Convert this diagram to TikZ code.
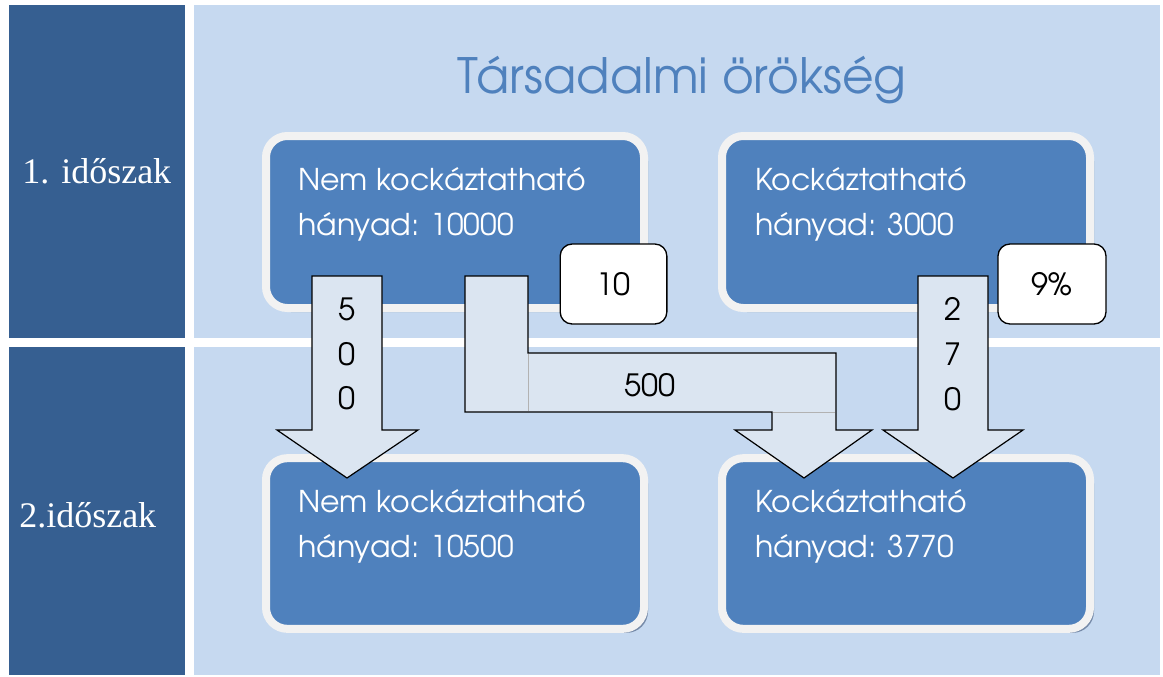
\documentclass[tikz,border=0pt]{standalone}
\usepackage{fontspec}
\setmainfont{Liberation Serif}
\newfontfamily\gothic{TeX Gyre Adventor}
\usetikzlibrary{shadows}
\definecolor{panelDark}{RGB}{54,95,145}
\definecolor{panelLight}{RGB}{198,217,240}
\definecolor{boxBlue}{RGB}{79,129,189}
\definecolor{boxRim}{RGB}{242,242,242}
\definecolor{boxShade}{RGB}{118,138,168}
\definecolor{arrowFill}{RGB}{219,229,241}
\tikzset{
  hanyadbox/.style={draw=boxRim,line width=6pt,fill=boxBlue,rounded corners=16pt,
    minimum height=129pt,inner sep=0pt,outer sep=0pt,
    drop shadow={shadow xshift=3pt,shadow yshift=-3pt,fill=boxShade,opacity=1}},
  hanyadtext/.style={anchor=base west,align=left,inner sep=0pt,text=white,
    font=\gothic\fontsize{22.5}{33.5}\selectfont},
  blockarrow/.style={draw=black,line width=0.9pt,fill=arrowFill,line join=miter},
  arrowtext/.style={align=center,inner sep=0pt,font=\gothic\fontsize{23}{33.5}\selectfont},
  callout/.style={draw=black,line width=1pt,fill=white,rounded corners=9pt,
    minimum height=60pt,inner sep=0pt,font=\gothic\fontsize{23}{27}\selectfont},
  periodlabel/.style={anchor=base west,inner sep=0pt,text=white,font=\fontsize{27}{30}\selectfont}
}
\begin{document}
\begin{tikzpicture}[x=0.75pt,y=-0.75pt]
	\useasboundingbox (0,0) rectangle (1163,676);
	
	\fill[panelDark] (9,5) rectangle (185,338);
	\fill[panelDark] (9,347) rectangle (185,675);
	\fill[panelLight] (194,5) rectangle (1160,338);
	\fill[panelLight] (194,347) rectangle (1160,675);
	
	\node[periodlabel] (per1) at (22,183) {1. időszak};
	\node[periodlabel] (per2) at (19,527) {2.időszak};
	
	\node[inner sep=0pt,anchor=base,text=boxBlue,font=\gothic\fontsize{36.5}{40}\selectfont] (title) at (682,93) {Társadalmi örökség};
	
	% time 1
	\node[hanyadbox,minimum width=283.5pt] (nk1) at (455,222) {};
	\node[hanyadbox,minimum width=276pt] (k1) at (906,222) {};
	\node[hanyadtext] (nk1txt) at (298,235) {Nem kockáztatható\\hányad: 10000};
	\node[hanyadtext] (k1txt) at (755,235) {Kockáztatható\\hányad: 3000};
	
	% time 2
	\node[hanyadbox,minimum width=283.5pt,minimum height=128pt] (nk2) at (455,543.5) {};
	\node[hanyadbox,minimum width=276pt,minimum height=128pt] (k2) at (906,543.5) {};
	\node[hanyadtext] (nk2txt) at (298,557) {Nem kockáztatható\\hányad: 10500};
	\node[hanyadtext] (k2txt) at (755,557) {Kockáztatható\\hányad: 3770};
	
	% flows
	\draw[blockarrow] (312,276) -- (382,276) -- (382,430) -- (418,430) -- (347,478) -- (277,430) -- (312,430) -- cycle;
	\draw[blockarrow] (465,276) -- (528,276) -- (528,353) -- (836,353) -- (836,430) -- (872,430) -- (804,478) -- (735,430) -- (772,430) -- (772,412) -- (465,412) -- cycle;
	\draw[gray!60,line width=0.4pt] (528,354) -- (528,411) (773,412) -- (835,412);
	\draw[blockarrow] (918,276) -- (988,276) -- (988,430) -- (1023,430) -- (953,478) -- (883,430) -- (918,430) -- cycle;
	
	\node[arrowtext] (flowA) at (347,354) {5\\0\\0};
	\node[arrowtext] (flowB) at (650,385) {500};
	\node[arrowtext] (flowC) at (953,354) {2\\7\\0};
	
	\node[callout,minimum width=80pt] (rate1) at (613.5,284) {10};
	\node[callout,minimum width=81pt] (rate2) at (1052,284) {9\%};
\end{tikzpicture}
\end{document}
